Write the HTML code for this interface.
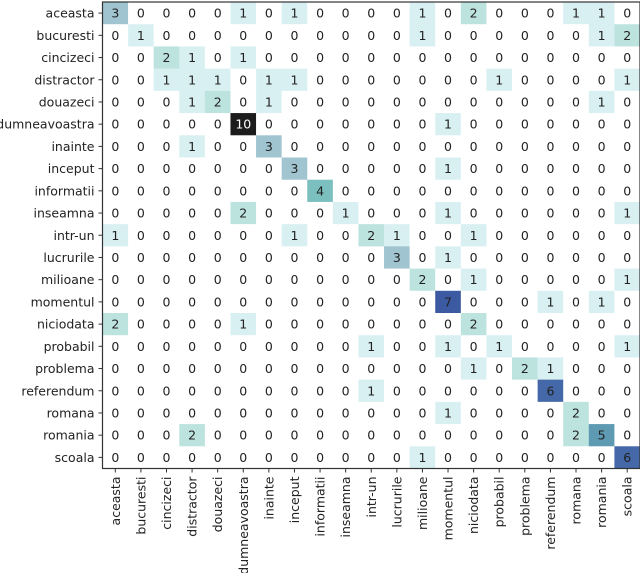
<!DOCTYPE html>
<html><head><meta charset="utf-8"><style>
html,body{margin:0;padding:0;background:#fff;width:640px;height:573px;overflow:hidden}
svg{display:block;font-family:"DejaVu Sans","Liberation Sans",sans-serif}
</style></head><body>
<svg id="chart" width="640" height="573"></svg>
<script>
const labels = ["aceasta","bucuresti","cincizeci","distractor","douazeci","dumneavoastra","inainte","inceput","informatii","inseamna","intr-un","lucrurile","milioane","momentul","niciodata","probabil","problema","referendum","romana","romania","scoala"];
const row0 = [3,0,0,0,0,1,0,1,0,0,0,0,1,0,2,0,0,0,1,1,0];
const row1 = [0,1,0,0,0,0,0,0,0,0,0,0,1,0,0,0,0,0,0,1,2];
const row2 = [0,0,2,1,0,1,0,0,0,0,0,0,0,0,0,0,0,0,0,0,0];
const row3 = [0,0,1,1,1,0,1,1,0,0,0,0,0,0,0,1,0,0,0,0,1];
const row4 = [0,0,0,1,2,0,1,0,0,0,0,0,0,0,0,0,0,0,0,1,0];
const row5 = [0,0,0,0,0,10,0,0,0,0,0,0,0,1,0,0,0,0,0,0,0];
const row6 = [0,0,0,1,0,0,3,0,0,0,0,0,0,0,0,0,0,0,0,0,0];
const row7 = [0,0,0,0,0,0,0,3,0,0,0,0,0,1,0,0,0,0,0,0,0];
const row8 = [0,0,0,0,0,0,0,0,4,0,0,0,0,0,0,0,0,0,0,0,0];
const row9 = [0,0,0,0,0,2,0,0,0,1,0,0,0,1,0,0,0,0,0,0,1];
const row10 = [1,0,0,0,0,0,0,1,0,0,2,1,0,0,1,0,0,0,0,0,0];
const row11 = [0,0,0,0,0,0,0,0,0,0,0,3,0,1,0,0,0,0,0,0,0];
const row12 = [0,0,0,0,0,0,0,0,0,0,0,0,2,0,1,0,0,0,0,0,1];
const row13 = [0,0,0,0,0,0,0,0,0,0,0,0,0,7,0,0,0,1,0,1,0];
const row14 = [2,0,0,0,0,1,0,0,0,0,0,0,0,0,2,0,0,0,0,0,0];
const row15 = [0,0,0,0,0,0,0,0,0,0,1,0,0,1,0,1,0,0,0,0,1];
const row16 = [0,0,0,0,0,0,0,0,0,0,0,0,0,0,1,0,2,1,0,0,0];
const row17 = [0,0,0,0,0,0,0,0,0,0,1,0,0,0,0,0,0,6,0,0,0];
const row18 = [0,0,0,0,0,0,0,0,0,0,0,0,0,1,0,0,0,0,2,0,0];
const row19 = [0,0,0,2,0,0,0,0,0,0,0,0,0,0,0,0,0,0,2,5,0];
const row20 = [0,0,0,0,0,0,0,0,0,0,0,0,1,0,0,0,0,0,0,0,6];
const matrix = [row0,row1,row2,row3,row4,row5,row6,row7,row8,row9,row10,row11,row12,row13,row14,row15,row16,row17,row18,row19,row20];

const NS="http://www.w3.org/2000/svg";
const svg=document.getElementById('chart');
const X0=102.5, X1=640, Y0=2, Y1=468.5, n=labels.length;
const cw=(X1-X0)/n, ch=(Y1-Y0)/n;
const xPos=i=>X0+i*cw, yPos=j=>Y0+j*ch;
const pal={0:"#ffffff",1:"#d9f0f3",2:"#bde3df",3:"#a0c4d0",4:"#7bbfbf",5:"#5f9ab3",6:"#4468a8",7:"#3c5aa2",8:"#2f4a8a",9:"#253a6a",10:"#1c1c1c"};
function color(v){return pal[Math.min(10,v)];}
function mk(t,a){const e=document.createElementNS(NS,t);for(const k in a)e.setAttribute(k,a[k]);svg.appendChild(e);return e;}

matrix.forEach((row,j)=>{
  row.forEach((v,i)=>{
    const r=mk('rect',{x:xPos(i),y:yPos(j),width:cw+0.3,height:ch+0.3,fill:color(v)});
    
    
    const t=mk('text',{x:xPos(i)+cw/2,y:yPos(j)+ch/2+4.5,'text-anchor':'middle','font-size':'12.5',fill:v>=10?'#fff':'#222'});
    t.textContent=v;
    
    
  });
});
const fr=mk('rect',{x:X0,y:Y0,width:X1-X0,height:Y1-Y0,fill:'none',stroke:'#333','stroke-width':1.2});


labels.forEach((l,j)=>{
  const y=yPos(j)+ch/2;
  mk('line',{x1:X0-4,x2:X0,y1:y,y2:y,stroke:'#333'});
  const t=mk('text',{x:X0-8,y:y+4.5,'text-anchor':'end','font-size':'12.5',fill:'#222'});
  t.textContent=l;
  
  
});
labels.forEach((l,i)=>{
  const x=xPos(i)+cw/2;
  mk('line',{x1:x,x2:x,y1:Y1,y2:Y1+4,stroke:'#333'});
  const t=mk('text',{x:0,y:0,'text-anchor':'end','font-size':'12.5',fill:'#222',transform:`translate(${x+4.5},${Y1+8}) rotate(-90)`});
  t.textContent=l;
  
  
});
</script>
</body></html>
